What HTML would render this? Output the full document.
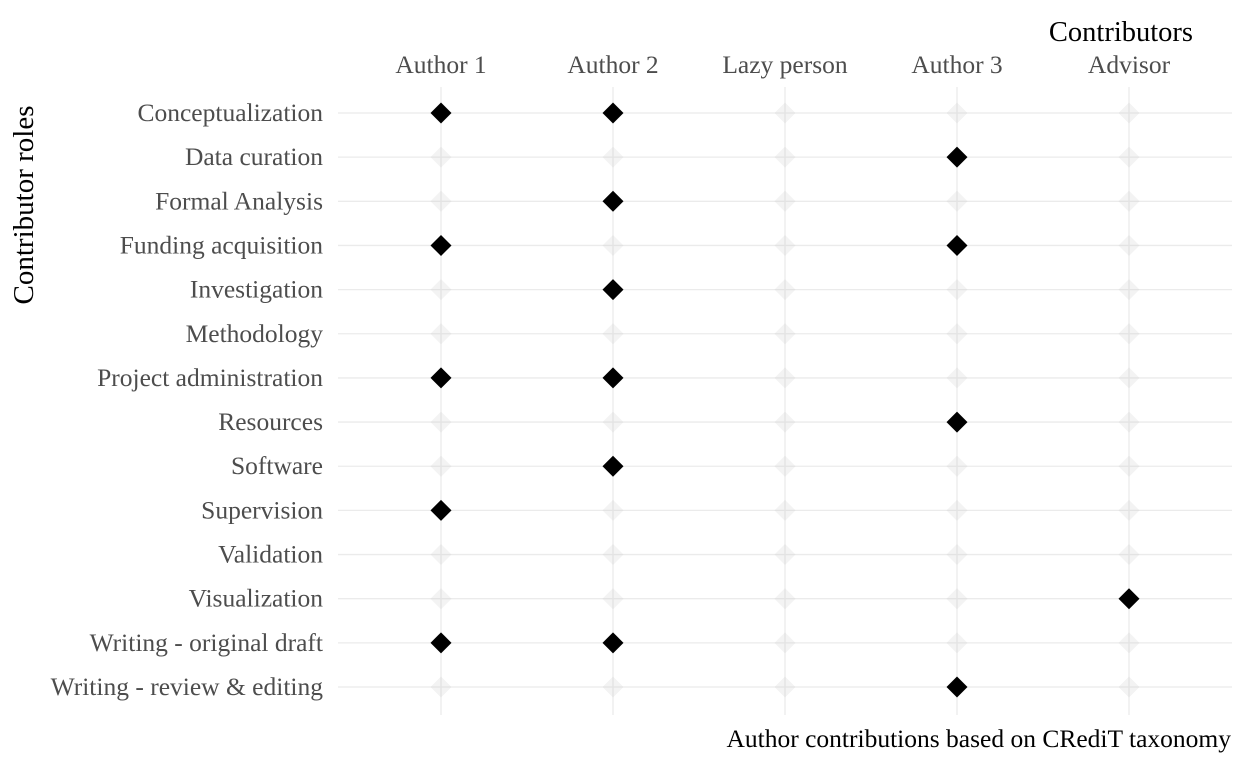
<!DOCTYPE html>
<html><head><meta charset="utf-8"><style>
html,body{margin:0;padding:0;background:#fff}
svg{display:block}
text{font-family:"Liberation Serif",serif}
</style></head><body>
<svg id="chart" width="1248" height="768">
<text x="1193" y="41" font-size="28.5" text-anchor="end" fill="#000">Contributors</text>
<text transform="translate(33,205) rotate(-90)" font-size="29" text-anchor="middle" fill="#000">Contributor roles</text>
<text x="1231" y="747" font-size="25.5" text-anchor="end" fill="#000">Author contributions based on CRediT taxonomy</text>
<g id="grid"></g><g id="labels"></g><g id="marks"></g>
</svg>
<script>
const contributors = ["Author 1","Author 2","Lazy person","Author 3","Advisor"];
const roles = ["Conceptualization","Data curation","Formal Analysis","Funding acquisition","Investigation","Methodology","Project administration","Resources","Software","Supervision","Validation","Visualization","Writing - original draft","Writing - review & editing"];
// contributions[roleIndex] = list of contributor indices
const contributions = [[0,1],[3],[1],[0,3],[1],[],[0,1],[3],[1],[0],[],[4],[0,1],[3]];

const NS="http://www.w3.org/2000/svg";
const xPos = i => 441 + i*172;
const yPos = j => 113 + j*(687-113)/13;
const grid=document.getElementById('grid'), labels=document.getElementById('labels'), marks=document.getElementById('marks');
function mk(tag, attrs, parent){const e=document.createElementNS(NS,tag);for(const k in attrs)e.setAttribute(k,attrs[k]);parent.appendChild(e);return e;}

contributors.forEach((c,i)=>{
  const l=mk('line',{x1:xPos(i),x2:xPos(i),y1:87,y2:715,stroke:'#ebebeb','stroke-width':1.3},grid);
  
  
  const t=mk('text',{x:xPos(i),y:73,'font-size':25.5,'text-anchor':'middle',fill:'#4d4d4d'},labels);
  t.textContent=c;
  
  
});
roles.forEach((r,j)=>{
  const l=mk('line',{x1:338,x2:1232,y1:yPos(j),y2:yPos(j),stroke:'#ebebeb','stroke-width':1.3},grid);
  
  
  const t=mk('text',{x:323,y:yPos(j)+8,'font-size':25.5,'text-anchor':'end',fill:'#4d4d4d'},labels);
  t.textContent=r;
  
  
});
const d=10.5;
roles.forEach((r,j)=>{
  contributors.forEach((c,i)=>{
    const on=contributions[j].includes(i);
    const x=xPos(i),y=yPos(j);
    const p=mk('polygon',{points:`${x},${y-d} ${x+d},${y} ${x},${y+d} ${x-d},${y}`,fill:on?'#000':'rgba(200,200,200,0.22)'},marks);
    
    
  });
});
</script>
</body></html>
